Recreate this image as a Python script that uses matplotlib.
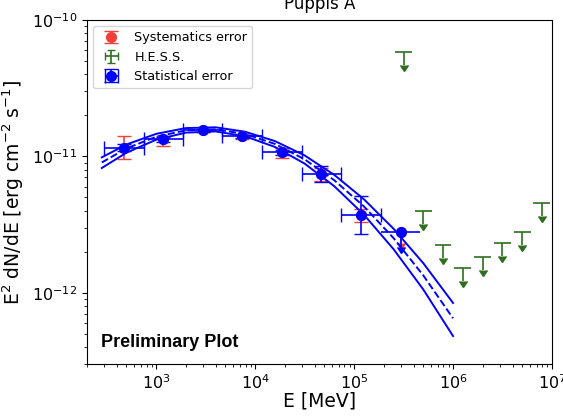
"""
Puppis A SED: Fermi-LAT points with statistical / systematic errors,
log-parabola fit band and H.E.S.S. upper limits.
"""

import numpy as np
import matplotlib.pyplot as plt

# ==========================================================
# Data (E in MeV, E^2 dN/dE in erg cm^-2 s^-1)
# ==========================================================

lat_e = [468, 1175, 2951, 7413, 18620, 46770, 117500, 295100]
lat_e_lo = [297, 745, 1870, 4680, 11750, 29500, 74100, 186200]
lat_e_hi = [745, 1870, 4680, 11750, 29500, 74100, 186200, 467700]
lat_flux = [1.16e-11, 1.33e-11, 1.55e-11, 1.40e-11, 1.07e-11, 7.4e-12, 3.7e-12, 2.8e-12]
lat_ul = [False, False, False, False, False, False, False, True]

stat_err_lo = [0.7e-12, 0.5e-12, 0.4e-12, 0.4e-12, 0.5e-12, 0.93e-12, 1.0e-12, 0.65e-12]
stat_err_hi = [0.7e-12, 0.5e-12, 0.4e-12, 0.4e-12, 0.5e-12, 1.05e-12, 1.4e-12, 0.65e-12]

sys_err_lo = [2.1e-12, 1.3e-12, 0.5e-12, 0.6e-12, 0.9e-12, 0.8e-12, 0.4e-12, 0.5e-12]
sys_err_hi = [2.4e-12, 0.9e-12, 0.5e-12, 0.6e-12, 0.9e-12, 0.8e-12, 0.4e-12, 0.5e-12]

hess_e = [3.16e5, 5.0e5, 7.9e5, 1.26e6, 2.0e6, 3.16e6, 5.0e6, 7.9e6]
hess_e_lo = [2.6e5, 4.1e5, 6.5e5, 1.03e6, 1.63e6, 2.6e6, 4.1e6, 6.5e6]
hess_e_hi = [3.85e5, 6.1e5, 9.6e5, 1.53e6, 2.43e6, 3.85e6, 6.1e6, 9.6e6]
hess_flux = [5.8e-11, 4.0e-12, 2.24e-12, 1.52e-12, 1.82e-12, 2.32e-12, 2.79e-12, 4.54e-12]

model_e = [282, 501, 1000, 1995, 3981, 7943, 15850, 31620, 63100,
           125900, 251200, 501200, 1000000]
model_best = [9.02e-12, 1.143e-11, 1.393e-11, 1.552e-11, 1.578e-11, 1.459e-11, 1.233e-11,
              9.51e-12, 6.68e-12, 4.29e-12, 2.51e-12, 1.337e-12, 6.49e-13]
model_upper = [9.83e-12, 1.222e-11, 1.462e-11, 1.612e-11, 1.633e-11, 1.515e-11, 1.294e-11,
               1.016e-11, 7.31e-12, 4.84e-12, 2.94e-12, 1.644e-12, 8.41e-13]
model_lower = [8.21e-12, 1.064e-11, 1.324e-11, 1.493e-11, 1.524e-11, 1.403e-11, 1.172e-11,
               8.85e-12, 6.04e-12, 3.73e-12, 2.08e-12, 1.054e-12, 4.81e-13]

# ==========================================================
# Figure
# ==========================================================

fig = plt.figure(figsize=(5.63, 4.16), dpi=100)
ax = fig.add_axes([87 / 563, 1 - 364 / 416, 465 / 563, 344 / 416])

e = np.asarray(lat_e, dtype=float)
flux = np.asarray(lat_flux)
ul = np.asarray(lat_ul)
det = ~ul
xerr = np.array([e - np.asarray(lat_e_lo), np.asarray(lat_e_hi) - e])
stat = np.array([stat_err_lo, stat_err_hi])
sys_ = np.array([sys_err_lo, sys_err_hi])

red = "#f0403a"
green = "#2e6e1e"

# --------------------------------------
# Systematic errors
# --------------------------------------

ax.errorbar(e[det], flux[det], yerr=sys_[:, det],
            fmt="o", color=red, ms=7, lw=1.2, capsize=5,
            label="Systematics error")
ax.errorbar(e[ul], flux[ul], yerr=sys_[:, ul], uplims=True,
            fmt="o", color=red, ms=7, lw=1.2)

# --------------------------------------
# H.E.S.S. upper limits
# --------------------------------------

he = np.asarray(hess_e)
hf = np.asarray(hess_flux)
ax.errorbar(
    hess_e, hess_flux,
    xerr=[he - np.asarray(hess_e_lo), np.asarray(hess_e_hi) - he],
    yerr=0.2 * hf,
    uplims=True,
    fmt="none", color=green, lw=1.2,
    label="H.E.S.S.",
)

# --------------------------------------
# Statistical errors
# --------------------------------------

ax.errorbar(e[det], flux[det], xerr=xerr[:, det], yerr=stat[:, det],
            fmt="o", color="blue", ms=7, lw=1.2, capsize=5,
            label="Statistical error")
ax.errorbar(e[ul], flux[ul], xerr=xerr[:, ul], yerr=stat[:, ul], uplims=True,
            fmt="o", color="blue", ms=7, lw=1.2)

# --------------------------------------
# Fit band
# --------------------------------------

ax.plot(model_e, model_upper, color="blue", lw=1.4)
ax.plot(model_e, model_best, color="blue", lw=1.4, ls="--")
ax.plot(model_e, model_lower, color="blue", lw=1.4)

ax.set_xscale("log")
ax.set_yscale("log")
ax.set_xlim(200, 1e7)
ax.set_ylim(3e-13, 1e-10)

ax.tick_params(labelsize=11.5)
ax.set_xlabel("E [MeV]", fontsize=13.5, labelpad=-1)
ax.set_ylabel(r"E$^2$ dN/dE [erg cm$^{-2}$ s$^{-1}$]", fontsize=13.5)
ax.set_title("Puppis A", fontsize=12, pad=8)

ax.text(0.03, 0.05, "Preliminary Plot", transform=ax.transAxes,
        fontsize=13, fontweight="bold", family="Liberation Sans")

ax.legend(loc="upper left", fontsize=9.2)

plt.savefig("out.png", dpi=100)
